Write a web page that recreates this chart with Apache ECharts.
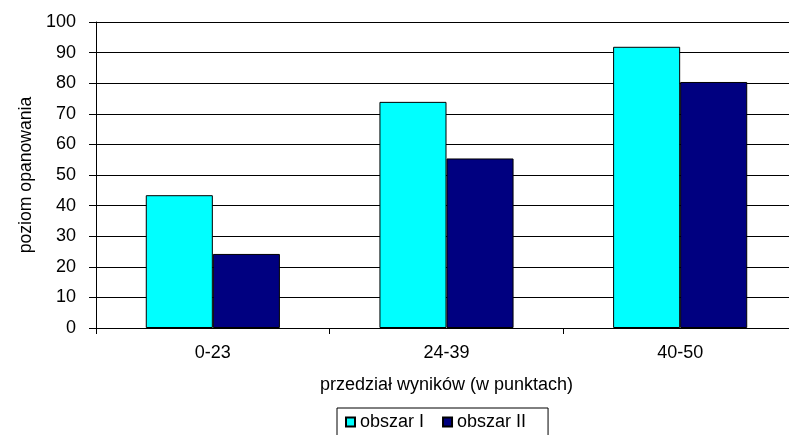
<!DOCTYPE html>
<html><head><meta charset="utf-8">
<script src="https://cdn.jsdelivr.net/npm/echarts@6/dist/echarts.min.js"></script>
<style>html,body{margin:0;padding:0;background:#fff}#c{width:789px;height:435px}</style>
</head><body><div id="c"></div>
<script>
const categories = ['0-23', '24-39', '40-50'];
const obszarI = [43.4, 73.9, 91.9];
const obszarII = [24.2, 55.4, 80.4];
const seriesNames = ['obszar I', 'obszar II'];
const yTitle = 'poziom opanowania';
const xTitle = 'przedział wyników (w punktach)';

const font = 'Liberation Sans, Arial, sans-serif';
const chart = echarts.init(document.getElementById('c'), null, {renderer: 'canvas'});
chart.setOption({
  animation: false,
  backgroundColor: '#fff',
  textStyle: {fontFamily: font},
  grid: {left: 96, top: 22, width: 701, height: 306, containLabel: false, outerBoundsMode: 'none'},
  legend: {
    data: seriesNames,
    left: 337, top: 408,
    borderColor: '#000', borderWidth: 1, borderRadius: 0,
    padding: [5, 22, 8, 8],
    itemWidth: 9, itemHeight: 9, itemGap: 18,
    textStyle: {fontSize: 18, color: '#000', fontFamily: font},
    icon: 'rect'
  },
  xAxis: {
    type: 'category', data: categories,
    name: xTitle, nameLocation: 'middle', nameGap: 48,
    nameTextStyle: {fontSize: 18, color: '#000', fontFamily: font},
    axisLine: {lineStyle: {color: '#000', width: 1}},
    axisTick: {show: true, length: 6, lineStyle: {color: '#000'}},
    axisLabel: {fontSize: 18, color: '#000', margin: 16, fontFamily: font},
    splitLine: {show: false}
  },
  yAxis: {
    type: 'value', min: 0, max: 100, interval: 10,
    name: yTitle, nameLocation: 'middle', nameGap: 61, nameRotate: 90,
    nameTextStyle: {fontSize: 17.6, color: '#000', fontFamily: font},
    axisLine: {show: true, lineStyle: {color: '#000', width: 1}},
    axisTick: {show: true, inside: false, length: 7, lineStyle: {color: '#000'}},
    axisLabel: {fontSize: 18, color: '#000', margin: 20, fontFamily: font},
    splitLine: {show: true, lineStyle: {color: '#000', width: 1}}
  },
  series: [
    {name: seriesNames[0], type: 'bar', data: obszarI, barGap: '0%', barCategoryGap: '42.6%',
     itemStyle: {color: '#00FFFF', borderColor: '#000', borderWidth: 1}},
    {name: seriesNames[1], type: 'bar', data: obszarII, barGap: '0%', barCategoryGap: '42.6%',
     itemStyle: {color: '#000080', borderColor: '#000', borderWidth: 1}}
  ]
});
</script></body></html>
